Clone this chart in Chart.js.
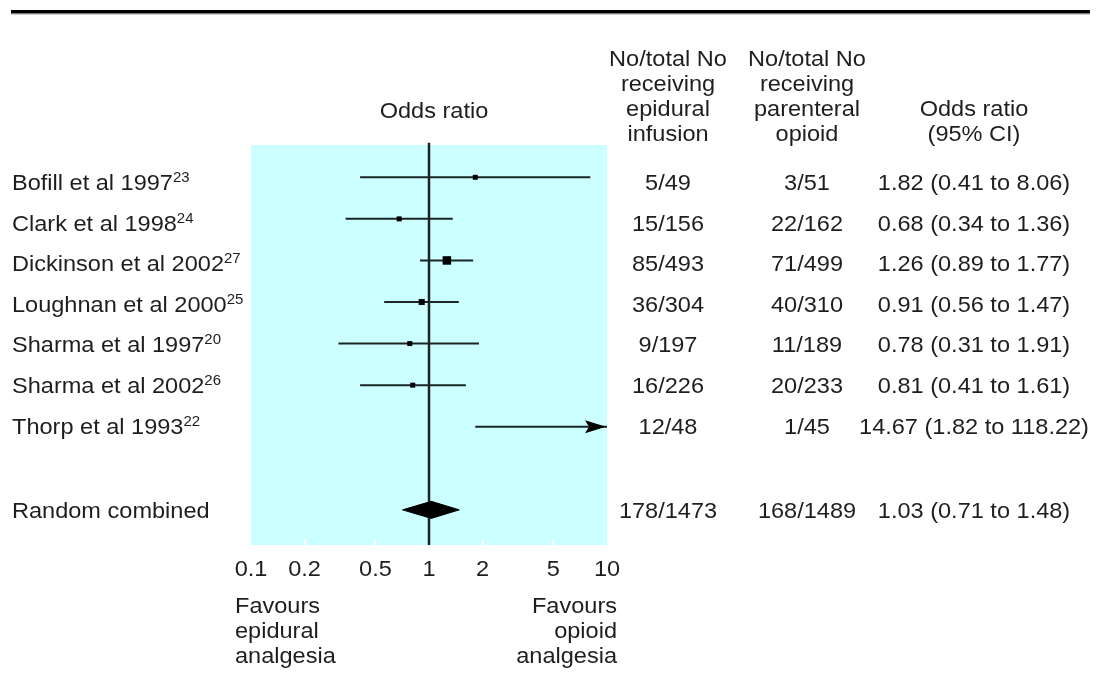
<!DOCTYPE html>
<html><head><meta charset="utf-8">
<script src="https://cdn.jsdelivr.net/npm/chart.js@4/dist/chart.umd.min.js"></script>
<style>html,body{margin:0;padding:0;background:#fff}canvas{display:block}</style>
</head><body>
<canvas id="c" width="1096" height="673"></canvas>
<script>
// ---------- data ----------
const studies = ['Bofill et al 1997','Clark et al 1998','Dickinson et al 2002','Loughnan et al 2000','Sharma et al 1997','Sharma et al 2002','Thorp et al 1993'];
const refs = ['23','24','27','25','20','26','22'];
const epiduralCounts = ['5/49','15/156','85/493','36/304','9/197','16/226','12/48'];
const opioidCounts = ['3/51','22/162','71/499','40/310','11/189','20/233','1/45'];
const oddsRatio = [1.82,0.68,1.26,0.91,0.78,0.81,14.67];
const ciLow = [0.41,0.34,0.89,0.56,0.31,0.41,1.82];
const ciHigh = [8.06,1.36,1.77,1.47,1.91,1.61,118.22];
const combinedLabel = 'Random combined';
const combinedEpidural = '178/1473';
const combinedOpioid = '168/1489';
const combinedOR = [1.03];
const combinedLow = [0.71];
const combinedHigh = [1.48];
const tickValues = [0.1,0.2,0.5,1,2,5,10];
const tickLabels = ['0.1','0.2','0.5','1','2','5','10'];

// ---------- layout / style constants ----------
const COMBINED_ROW = 8;
const LINE_COLOR = '#1b2525';
const TEXT_COLOR = '#1e1e1e';
const COL1 = 668, COL2 = 807, COL3 = 974, LABEL_X = 12;
const TEXT_Y0 = 190, TEXT_PITCH = 40.6, COMBINED_TEXT_Y = 518;

// font selection: condensed face with loose tracking if available
const probe = document.createElement('canvas').getContext('2d');
probe.font = '40px monospace';
const monoW = probe.measureText('Bofill et al 1997 abcdefg').width;
probe.font = '40px "Liberation Sans Narrow", monospace';
const narrowW = probe.measureText('Bofill et al 1997 abcdefg').width;
const HAS_NARROW = Math.abs(narrowW - monoW) > 1;
const FONT = HAS_NARROW ? '"Liberation Sans Narrow", "Liberation Sans", Arial, sans-serif' : '"Liberation Sans", Arial, sans-serif';
const FS = HAS_NARROW ? 23 : 22;
const SX = HAS_NARROW ? 1 : 1.07;
const TRACK = HAS_NARROW ? 1.9 : 0;

function fmt(v){ return v.toFixed(2); }

// marker size from inverse variance of log OR
const se = ciLow.map((lo,i)=>Math.log(ciHigh[i]/lo)/(2*1.96));
const w = se.map(s=>1/(s*s));
const wMax = Math.max(...w);
const side = w.map(v=>Math.max(5, 8.5*Math.sqrt(v/wMax)));

const ciDatasets = studies.map((s,i)=>({
  type:'line', data:[{x:ciLow[i],y:i},{x:ciHigh[i],y:i}],
  borderColor:LINE_COLOR, borderWidth:2, pointRadius:0, fill:false, order:2
}));

const diamondH = 0.205;
const datasets = [
  {type:'line', data:[{x:1,y:-0.83},{x:1,y:8.845}], borderColor:LINE_COLOR, borderWidth:2.5, pointRadius:0, fill:false, clip:false, order:3},
  ...ciDatasets,
  {type:'line', showLine:false, data:oddsRatio.map((v,i)=>({x:v,y:i})),
   pointStyle:'rect', pointRadius:side.map(s=>s/Math.SQRT2), pointBackgroundColor:'#000', pointBorderWidth:0, order:1},
  {type:'line', data:[
     {x:combinedLow[0],y:COMBINED_ROW},{x:combinedOR[0],y:COMBINED_ROW-diamondH},
     {x:combinedHigh[0],y:COMBINED_ROW},{x:combinedOR[0],y:COMBINED_ROW+diamondH},
     {x:combinedLow[0],y:COMBINED_ROW}],
   borderColor:'#000', backgroundColor:'#000', borderWidth:1, pointRadius:0, fill:'shape', order:0}
];

function txt(ctx, s, x, y, align, size){
  ctx.save();
  const fs = size||FS;
  ctx.font = fs+'px '+FONT;
  ctx.fillStyle = TEXT_COLOR;
  ctx.textBaseline = 'alphabetic';
  ctx.textAlign = align||'left';
  const tr = TRACK*fs/FS;
  if ('letterSpacing' in ctx) ctx.letterSpacing = tr+'px';
  let dx = 0;
  if (align==='center') dx = tr/2; else if (align==='right') dx = tr;
  ctx.translate(x+dx,y); ctx.scale(SX,1);
  ctx.fillText(s,0,0);
  const wd = ctx.measureText(s).width*SX;
  ctx.restore();
  return wd;
}

const forestPlugin = {
  id:'forest',
  beforeDatasetsDraw(chart){
    const {ctx, chartArea:a, scales:{x}} = chart;
    ctx.save();
    ctx.fillStyle = '#ccffff';
    ctx.fillRect(a.left, a.top, a.right-a.left, a.bottom-a.top);
    ctx.fillStyle = '#ffffff';
    tickValues.forEach(v=>{
      if (v===1 || v===tickValues[0] || v===tickValues[tickValues.length-1]) return;
      const px = x.getPixelForValue(v);
      ctx.fillRect(Math.round(px)-1, a.bottom-6, 2, 6);
    });
    ctx.restore();
  },
  afterDatasetsDraw(chart){
    const {ctx, chartArea:a, scales:{x,y}} = chart;
    ctx.save();
    ctx.fillStyle = '#000';
    ciHigh.forEach((hi,i)=>{
      if (hi > x.max){
        const py = y.getPixelForValue(i);
        const tip = a.right - 1;
        ctx.beginPath();
        ctx.moveTo(tip, py);
        ctx.lineTo(tip-21, py-6.5);
        ctx.lineTo(tip-17, py);
        ctx.lineTo(tip-21, py+6.5);
        ctx.closePath();
        ctx.fill();
      }
    });
    ctx.restore();
  },
  afterDraw(chart){
    const {ctx, scales:{x}} = chart;
    ctx.save();
    ctx.fillStyle = '#000';
    ctx.fillRect(11, 10, 1079, 3);
    ctx.fillStyle = '#777';
    ctx.fillRect(11, 13, 1079, 1);
    ctx.fillStyle = '#cfcfcf';
    ctx.fillRect(11, 14, 1079, 1);
    ctx.restore();

    txt(ctx, 'Odds ratio', 434, 118, 'center');
    ['No/total No','receiving','epidural','infusion'].forEach((s,k)=>txt(ctx, s, COL1, 66+25*k, 'center'));
    ['No/total No','receiving','parenteral','opioid'].forEach((s,k)=>txt(ctx, s, COL2, 66+25*k, 'center'));
    txt(ctx, 'Odds ratio', COL3, 116, 'center');
    txt(ctx, '(95% CI)', COL3, 141, 'center');

    studies.forEach((s,i)=>{
      const by = TEXT_Y0 + TEXT_PITCH*i;
      const wd = txt(ctx, s, LABEL_X, by, 'left');
      txt(ctx, refs[i], LABEL_X+wd, by-8, 'left', 14);
      txt(ctx, epiduralCounts[i], COL1, by, 'center');
      txt(ctx, opioidCounts[i], COL2, by, 'center');
      txt(ctx, fmt(oddsRatio[i])+' ('+fmt(ciLow[i])+' to '+fmt(ciHigh[i])+')', COL3, by, 'center');
    });
    txt(ctx, combinedLabel, LABEL_X, COMBINED_TEXT_Y, 'left');
    txt(ctx, combinedEpidural, COL1, COMBINED_TEXT_Y, 'center');
    txt(ctx, combinedOpioid, COL2, COMBINED_TEXT_Y, 'center');
    txt(ctx, fmt(combinedOR[0])+' ('+fmt(combinedLow[0])+' to '+fmt(combinedHigh[0])+')', COL3, COMBINED_TEXT_Y, 'center');

    tickValues.forEach((v,k)=>txt(ctx, tickLabels[k], x.getPixelForValue(v), 576, 'center'));

    ['Favours','epidural','analgesia'].forEach((s,k)=>txt(ctx, s, 235, 613+25*k, 'left'));
    ['Favours','opioid','analgesia'].forEach((s,k)=>txt(ctx, s, 617, 613+25*k, 'right'));
  }
};

new Chart(document.getElementById('c'), {
  type:'line',
  data:{datasets},
  options:{
    responsive:false, animation:false, events:[],
    layout:{padding:{left:251, right:1096-607, top:145, bottom:673-545}},
    plugins:{legend:{display:false}, tooltip:{enabled:false}},
    scales:{
      x:{type:'logarithmic', min:0.1, max:10, display:false},
      y:{type:'linear', min:-0.777, max:8.845, reverse:true, display:false}
    }
  },
  plugins:[forestPlugin]
});
</script>
</body></html>
